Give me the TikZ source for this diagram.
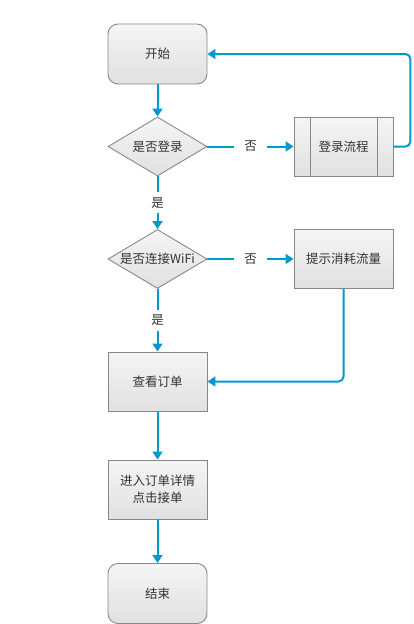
\documentclass[tikz,border=0pt]{standalone}
\usepackage{fontspec}
\setmainfont{Noto Sans CJK SC}
\usetikzlibrary{shapes.geometric,arrows.meta}
\definecolor{flowblue}{RGB}{0,153,204}
\definecolor{edgegray}{RGB}{136,136,136}
\definecolor{textgray}{RGB}{51,51,51}
\newcommand{\topshade}{white!96!black}
\newcommand{\bottomshade}{white!88!black}
\newcommand{\boxwid}{99pt}
\newcommand{\boxhei}{59pt}

\begin{document}
\begin{tikzpicture}[x=1pt, y=-1pt, >={Triangle[width=10pt,length=8pt]},
    font=\fontsize{12.5}{17}\selectfont, text=textgray,
    box/.style={draw=edgegray, line width=0.9pt, top color=\topshade, bottom color=\bottomshade,
        minimum width=\boxwid, minimum height=\boxhei, inner sep=0pt, align=center},
    term/.style={box, rounded corners=10pt, minimum height=60pt},
    decide/.style={diamond, draw=edgegray, line width=0.9pt, top color=\topshade, bottom color=\bottomshade,
        minimum width=\boxwid, minimum height=59pt, inner sep=0pt},
    flow/.style={->, draw=flowblue, line width=2pt},
    lbl/.style={fill=white, inner xsep=10pt, inner ysep=5pt}]
        \useasboundingbox (0,0) rectangle (413,624);

        % boxes
        \node[term] (start) at (157.5,54) {开始};
        \node[decide, label=center:是否登录] (ask1) at (157.5,146.5) {};
        \node[box] (login) at (343.5,146.5) {登录流程};
        \draw[edgegray, line width=0.9pt] ([xshift=17pt]login.north west) -- ([xshift=17pt]login.south west);
        \draw[edgegray, line width=0.9pt] ([xshift=-16pt]login.north east) -- ([xshift=-16pt]login.south east);
        \node[decide, label=center:是否连接WiFi] (ask2) at (157.5,259) {};
        \node[box] (hint) at (343.5,259) {提示消耗流量};
        \node[box] (view) at (157.5,381.5) {查看订单};
        \node[box] (enter) at (157.5,489.5) {进入订单详情\\点击接单};
        \node[term] (stop) at (157.5,593.5) {结束};

        % connectors
        \draw[flow] (start) -- (ask1);
        \draw[flow] (ask1) -- node[lbl] {否} (login);
        \draw[flow, rounded corners=5pt] (login.east) -- ++(17,0) |- (start.east);
        \draw[flow] (ask1) -- node[lbl] {是} (ask2);
        \draw[flow] (ask2) -- node[lbl] {否} (hint);
        \draw[flow, rounded corners=5pt] (hint.south) |- (view.east);
        \draw[flow] (ask2) -- node[lbl] {是} (view);
        \draw[flow] (view) -- (enter);
        \draw[flow] (enter) -- (stop);
    \end{tikzpicture}
\end{document}
